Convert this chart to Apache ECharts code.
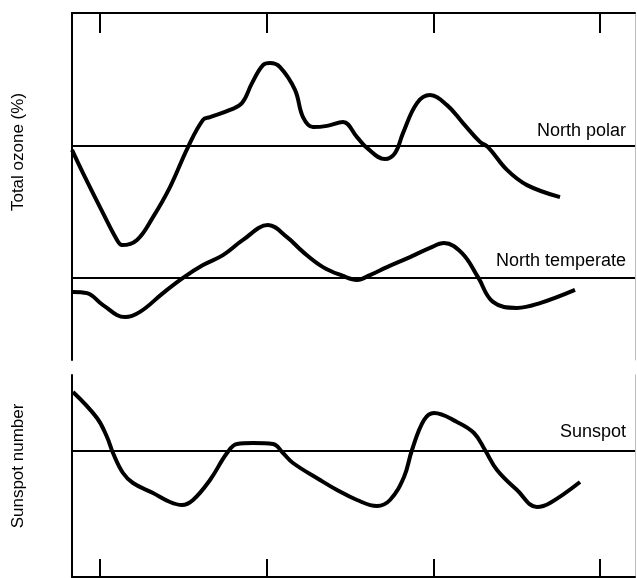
<!DOCTYPE html>
<html>
<head>
<meta charset="utf-8">
<script src="https://cdn.jsdelivr.net/npm/echarts@6/dist/echarts.min.js"></script>
<style>
html,body{margin:0;padding:0;background:#fff;}
#chart{width:637px;height:578px;}
</style>
</head>
<body>
<div id="chart"></div>
<script>
// Year ticks on the time axes
const yearTicks = [1960, 1970, 1980, 1990];

// North polar total ozone deviation (%)
const polarYears = [1958.32,1958.98,1960.18,1961.02,1961.32,1962.22,1963.18,1964.20,1965.28,1966.18,1966.60,1967.80,1968.52,1969.12,1969.78,1970.20,1970.80,1971.70,1972.18,1972.78,1973.62,1974.58,1975.42,1976.02,1977.10,1977.70,1978.18,1979.02,1979.80,1980.82,1981.78,1982.80,1983.28,1984.42,1985.62,1987.60];
const polarValues = [-0.22,-1.38,-3.38,-4.72,-4.98,-4.72,-3.58,-2.08,-0.08,1.28,1.42,1.78,2.12,3.12,4.02,4.12,3.92,2.78,1.42,0.92,0.98,1.18,0.42,-0.12,-0.68,-0.38,0.62,2.12,2.52,2.02,1.12,0.18,-0.08,-1.22,-1.98,-2.58];

// North temperate total ozone deviation (%)
const temperateYears = [1958.38,1959.22,1960.18,1961.50,1962.40,1963.78,1964.98,1966.18,1967.38,1968.58,1970.08,1971.22,1972.18,1973.38,1974.58,1975.42,1976.20,1977.22,1978.60,1979.80,1980.64,1981.72,1982.68,1983.58,1985.02,1986.40,1988.50];
const temperateValues = [-0.72,-0.78,-1.38,-1.98,-1.72,-0.78,-0.02,0.62,1.12,1.88,2.62,2.02,1.28,0.52,0.08,-0.12,0.12,0.52,1.02,1.48,1.72,1.22,0.02,-1.22,-1.52,-1.28,-0.62];

// Sunspot number deviation
const sunspotYears = [1958.38,1959.82,1960.42,1960.78,1961.38,1961.98,1963.18,1964.20,1964.92,1965.58,1966.60,1967.62,1968.22,1969.18,1970.38,1970.98,1971.58,1973.20,1974.22,1975.42,1976.62,1977.40,1978.24,1978.72,1979.44,1980.04,1981.42,1982.44,1983.10,1983.82,1985.02,1986.22,1987.00,1988.80];
const sunspotValues = [59,33,14,-2,-22,-32,-42,-51,-54,-49,-29,-2,7,8,7,-2,-12,-29,-39,-49,-55,-49,-26,1,31,38,29,18,1,-19,-39,-56,-52,-31];

const seriesLabels = ['North polar', 'North temperate', 'Sunspot'];
const axisTitles = ['Total ozone (%)', 'Sunspot number'];

const FONT = '"Liberation Sans", Arial, Helvetica, sans-serif';
const pair = (xs, ys) => xs.map((x, i) => [x, ys[i]]);

function baseline(label, dist) {
  return {
    silent: true,
    symbol: 'none',
    lineStyle: { color: '#000', width: 2, type: 'solid' },
    label: {
      show: true, position: 'insideEndTop', formatter: label,
      color: '#000', fontSize: 18, fontFamily: FONT, distance: dist
    },
    data: [{ yAxis: 0 }]
  };
}

const curve = { type: 'line', smooth: 0.4, showSymbol: false, symbol: 'none',
  lineStyle: { color: '#000', width: 4 }, animation: false };

const chart = echarts.init(document.getElementById('chart'), null, { renderer: 'canvas' });
chart.setOption({
  animation: false,
  backgroundColor: '#fff',
  grid: [
    { left: 72, right: 2, top: 13, height: 347 },
    { left: 72, right: 2, top: 375, height: 202 }
  ],
  xAxis: [
    { gridIndex: 0, type: 'value', position: 'top', min: 1958.32, max: 1992.1,
      axisLine: { show: true, onZero: false, lineStyle: { color: '#000', width: 2 } },
      axisTick: { show: true, inside: true, length: 20, customValues: yearTicks, lineStyle: { color: '#000', width: 2 } },
      axisLabel: { show: false }, splitLine: { show: false } },
    { gridIndex: 1, type: 'value', position: 'bottom', min: 1958.32, max: 1992.1,
      axisLine: { show: true, onZero: false, lineStyle: { color: '#000', width: 2 } },
      axisTick: { show: true, inside: true, length: 18, customValues: yearTicks, lineStyle: { color: '#000', width: 2 } },
      axisLabel: { show: false }, splitLine: { show: false } }
  ],
  yAxis: [
    { gridIndex: 0, type: 'value', position: 'left', min: -10.725, max: 6.625,
      axisLine: { show: true, onZero: false, lineStyle: { color: '#000', width: 2 } },
      axisTick: { show: false }, axisLabel: { show: false }, splitLine: { show: false } },
    { gridIndex: 0, type: 'value', position: 'right', min: -4.125, max: 13.225,
      axisLine: { show: true, onZero: false, lineStyle: { color: '#bbb', width: 1 } },
      axisTick: { show: false }, axisLabel: { show: false }, splitLine: { show: false } },
    { gridIndex: 1, type: 'value', position: 'left', min: -126, max: 76,
      axisLine: { show: true, onZero: false, lineStyle: { color: '#000', width: 2 } },
      axisTick: { show: false }, axisLabel: { show: false }, splitLine: { show: false } },
    { gridIndex: 1, type: 'value', position: 'right', min: -126, max: 76,
      axisLine: { show: true, onZero: false, lineStyle: { color: '#bbb', width: 1 } },
      axisTick: { show: false }, axisLabel: { show: false }, splitLine: { show: false } }
  ],
  series: [
    Object.assign({}, curve, { name: seriesLabels[0], xAxisIndex: 0, yAxisIndex: 0,
      data: pair(polarYears, polarValues), markLine: baseline(seriesLabels[0], [9, 5]) }),
    Object.assign({}, curve, { name: seriesLabels[1], xAxisIndex: 0, yAxisIndex: 1,
      data: pair(temperateYears, temperateValues), markLine: baseline(seriesLabels[1], [9, 7]) }),
    Object.assign({}, curve, { name: seriesLabels[2], xAxisIndex: 1, yAxisIndex: 2,
      data: pair(sunspotYears, sunspotValues), markLine: baseline(seriesLabels[2], [9, 10]) })
  ],
  graphic: [
    { type: 'text', x: 18, y: 152, rotation: Math.PI / 2,
      style: { text: axisTitles[0], fill: '#000', font: '17px ' + FONT, textAlign: 'center', textVerticalAlign: 'middle' } },
    { type: 'text', x: 18, y: 466, rotation: Math.PI / 2,
      style: { text: axisTitles[1], fill: '#000', font: '17px ' + FONT, textAlign: 'center', textVerticalAlign: 'middle' } }
  ]
});
</script>
</body>
</html>
